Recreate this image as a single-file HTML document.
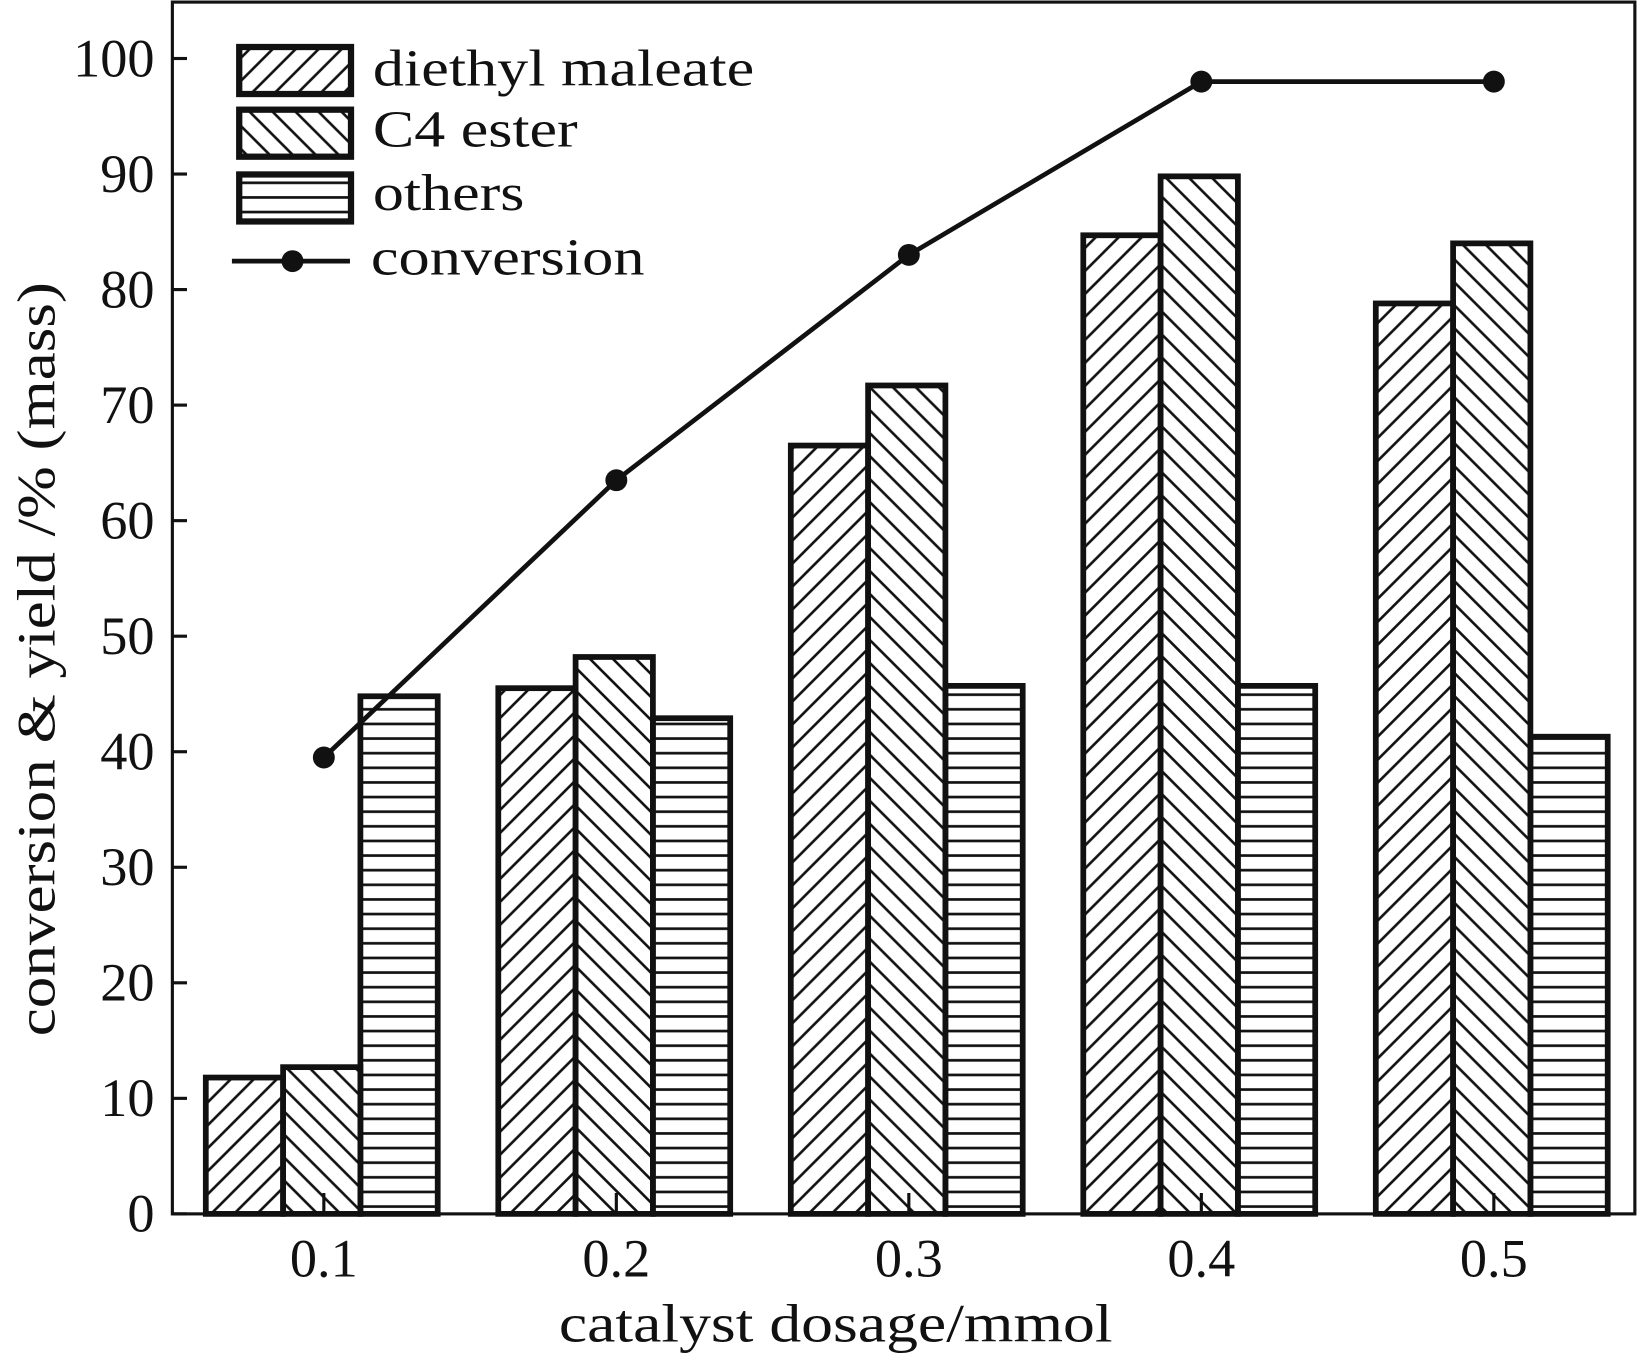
<!DOCTYPE html>
<html><head><meta charset="utf-8"><style>html,body{margin:0;padding:0;background:#fff}svg{display:block}text{font-family:"Liberation Serif",serif;fill:#111}</style></head>
<body>
<svg width="1638" height="1357" viewBox="0 0 1568 1299" preserveAspectRatio="none">
<defs>
<pattern id="pf" patternUnits="userSpaceOnUse" width="22" height="22"><path d="M-2,24 L24,-2 M-13,13 L13,-13 M9,35 L35,9" stroke="#111" stroke-width="2.5"/></pattern>
<pattern id="pb" patternUnits="userSpaceOnUse" width="22" height="22"><path d="M-2,-2 L24,24 M9,-13 L35,13 M-13,9 L13,35" stroke="#111" stroke-width="2.5"/></pattern>
<pattern id="ph" patternUnits="userSpaceOnUse" width="20" height="14"><path d="M0,7 L20,7" stroke="#111" stroke-width="2.5"/></pattern>
</defs>
<g id="plot"></g>
<g>
<rect x="229" y="45" width="107" height="45" fill="url(#pf)" stroke="#111" stroke-width="6"/>
<text x="357" y="82" font-size="50" textLength="365" lengthAdjust="spacingAndGlyphs">diethyl maleate</text>
<rect x="229" y="105" width="107" height="45" fill="url(#pb)" stroke="#111" stroke-width="6"/>
<text x="357" y="140" font-size="50" textLength="196" lengthAdjust="spacingAndGlyphs">C4 ester</text>
<rect x="229" y="167" width="107" height="45" fill="url(#ph)" stroke="#111" stroke-width="6"/>
<text x="357" y="201" font-size="50" textLength="145" lengthAdjust="spacingAndGlyphs">others</text>
<line x1="222" y1="250" x2="335" y2="250" stroke="#111" stroke-width="4.5"/>
<circle cx="280" cy="250" r="10.5" fill="#111"/>
<text x="355" y="263" font-size="50" textLength="262" lengthAdjust="spacingAndGlyphs">conversion</text>
</g>
<text x="535" y="1284" font-size="52" textLength="530" lengthAdjust="spacingAndGlyphs">catalyst dosage/mmol</text>
<text transform="translate(52,992) rotate(-90)" font-size="52" textLength="722" lengthAdjust="spacingAndGlyphs">conversion &amp; yield /% (mass)</text>
</svg>
<script>
const categories=["0.1","0.2","0.3","0.4","0.5"];
const diethyl=[11.8,45.5,66.5,84.7,78.8];
const c4=[12.7,48.2,71.7,89.8,84.0];
const others=[44.8,42.9,45.7,45.7,41.3];
const conversion=[39.5,63.5,83,98,98];
const yTicks=[0,10,20,30,40,50,60,70,80,90,100];
const NS="http://www.w3.org/2000/svg";
const g=document.getElementById('plot');
const L=165,R=1565,T=2,B=1162;
const y=v=>B-v*11.06;
const x=i=>310+i*280;
function mk(t,a){const e=document.createElementNS(NS,t);for(const k in a)e.setAttribute(k,a[k]);g.appendChild(e);return e;}
const series=[[diethyl,'url(#pf)','bar-diethyl'],[c4,'url(#pb)','bar-c4'],[others,'url(#ph)','bar-others']];
const bw=74;
categories.forEach((c,i)=>{
 series.forEach((s,j)=>{
  const x0=x(i)-113+j*bw;
  const r=mk('rect',{x:x0,y:y(s[0][i]),width:bw,height:B-y(s[0][i]),fill:s[1],stroke:'#111','stroke-width':5.5});
  
  
 });
});
const fr=mk('rect',{x:L,y:T,width:R-L,height:B-T,fill:'none',stroke:'#111','stroke-width':3});


yTicks.forEach(v=>{
 mk('line',{x1:L,x2:L+14,y1:y(v),y2:y(v),stroke:'#111','stroke-width':3});
 const t=mk('text',{x:148,y:y(v)+17,'font-size':52,'text-anchor':'end'});t.textContent=v;
 
 
});
categories.forEach((c,i)=>{
 mk('line',{x1:x(i),x2:x(i),y1:B,y2:B-20,stroke:'#111','stroke-width':3});
 const t=mk('text',{x:x(i),y:1222,'font-size':52,'text-anchor':'middle'});t.textContent=c;
 
 
});
const ln=mk('polyline',{points:conversion.map((v,i)=>x(i)+','+y(v)).join(' '),fill:'none',stroke:'#111','stroke-width':4.5});


conversion.forEach((v,i)=>{
 const c=mk('circle',{cx:x(i),cy:y(v),r:10.5,fill:'#111'});
 
 
});
</script>
</body></html>
